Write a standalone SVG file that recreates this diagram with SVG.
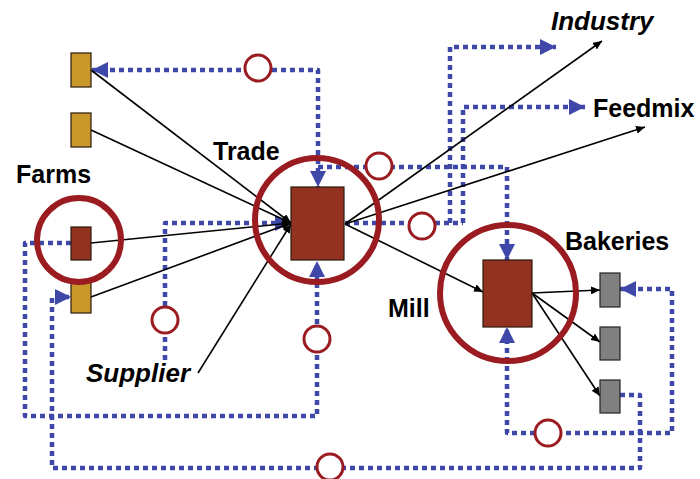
<svg xmlns="http://www.w3.org/2000/svg" width="700" height="479" viewBox="0 0 700 479">
  <style>
    .flow { fill: none; stroke: #3f48a8; stroke-width: 4.5; stroke-dasharray: 5 4; stroke-linejoin: round; }
    .link { fill: none; stroke: #000; stroke-width: 1.6; }
    .big { fill: none; stroke: #9b1c20; stroke-width: 6; }
    .chk { fill: #fff; stroke: #9b1c20; stroke-width: 3; }
    .hub { fill: #933220; stroke: #2a1a10; stroke-width: 1.2; }
    .farm { fill: #c8982a; stroke: #2a1a10; stroke-width: 1.2; }
    .bak { fill: #808080; stroke: #222; stroke-width: 1.2; }
    .lbl { font-family: "Liberation Sans", Arial, sans-serif; font-weight: bold; font-size: 25px; fill: #000; }
    .it { font-style: italic; font-size: 26px; }
  </style>
  <defs>
    <marker id="blueHead" markerUnits="userSpaceOnUse" markerWidth="17" markerHeight="16" refX="16" refY="8" orient="auto-start-reverse">
      <path d="M0,0 L16,8 L0,16 z" fill="#3f48a8"/>
    </marker>
    <marker id="blackHead" markerUnits="userSpaceOnUse" markerWidth="10" markerHeight="8" refX="9" refY="4" orient="auto">
      <path d="M0,0 L9,4 L0,8 z" fill="#000"/>
    </marker>
  </defs>

  <!-- information / money flows (dotted) -->
  <g id="flows">
    <path class="flow" d="M92,70 L318,70 L318,187" marker-start="url(#blueHead)" marker-end="url(#blueHead)"/>
    <path class="flow" d="M318,167 L507,167 L507,260" marker-end="url(#blueHead)"/>
    <path class="flow" d="M345,223 L463,223"/>
    <path class="flow" d="M450,223 L450,47 L556,47" marker-end="url(#blueHead)"/>
    <path class="flow" d="M463,223 L463,107 L585,107" marker-end="url(#blueHead)"/>
    <path class="flow" d="M71,243 L25,243 L25,416 L317,416 L317,261" marker-end="url(#blueHead)"/>
    <path class="flow" d="M165,360 L165,223 L291,223" marker-end="url(#blueHead)"/>
    <path class="flow" d="M620,395 L640,395 L640,468 L52,468 L52,297 L71,297" marker-end="url(#blueHead)"/>
    <path class="flow" d="M620,289 L672,289 L672,433 L507,433 L507,327" marker-start="url(#blueHead)" marker-end="url(#blueHead)"/>
  </g>

  <!-- control points on the flows -->
  <g id="cp1"><circle class="chk" cx="258" cy="68" r="13"/></g>
  <g id="cp2"><circle class="chk" cx="379" cy="166" r="13"/></g>
  <g id="cp3"><circle class="chk" cx="422" cy="226" r="13"/></g>
  <g id="cp4"><circle class="chk" cx="165" cy="320" r="13"/></g>
  <g id="cp5"><circle class="chk" cx="317" cy="339" r="13"/></g>
  <g id="cp6"><circle class="chk" cx="330" cy="467" r="13"/></g>
  <g id="cp7"><circle class="chk" cx="548" cy="433" r="13"/></g>

  <!-- goods flows (solid arrows) -->
  <g id="links">
    <line class="link" x1="91" y1="70" x2="291" y2="223" marker-end="url(#blackHead)"/>
    <line class="link" x1="91" y1="130" x2="291" y2="223" marker-end="url(#blackHead)"/>
    <line class="link" x1="91" y1="243" x2="291" y2="223" marker-end="url(#blackHead)"/>
    <line class="link" x1="91" y1="297" x2="291" y2="223" marker-end="url(#blackHead)"/>
    <line class="link" x1="198" y1="373" x2="291" y2="224" marker-end="url(#blackHead)"/>
    <line class="link" x1="345" y1="224" x2="602" y2="41" marker-end="url(#blackHead)"/>
    <line class="link" x1="345" y1="224" x2="645" y2="127" marker-end="url(#blackHead)"/>
    <line class="link" x1="345" y1="224" x2="483" y2="292" marker-end="url(#blackHead)"/>
    <line class="link" x1="532" y1="293" x2="600" y2="290" marker-end="url(#blackHead)"/>
    <line class="link" x1="532" y1="293" x2="600" y2="342" marker-end="url(#blackHead)"/>
    <line class="link" x1="532" y1="293" x2="600" y2="396" marker-end="url(#blackHead)"/>
  </g>

  <g id="farm1"><rect class="farm" x="71" y="53" width="20" height="34"/></g>
  <g id="farm2"><rect class="farm" x="71" y="113" width="20" height="34"/></g>
  <g id="farm3"><rect class="farm" x="71" y="282" width="20" height="31"/></g>
  <g id="farms">
    <rect class="hub" x="71" y="227" width="20" height="33"/>
    <circle class="big" cx="79" cy="240" r="42"/>
    <text class="lbl" x="16" y="183">Farms</text>
  </g>
  <g id="trade">
    <rect class="hub" x="291" y="187" width="53" height="73"/>
    <circle class="big" cx="317" cy="220" r="62"/>
    <text class="lbl" x="213" y="160">Trade</text>
  </g>
  <g id="mill">
    <rect class="hub" x="483" y="260" width="49" height="67"/>
    <circle class="big" cx="508" cy="293" r="68"/>
    <text class="lbl" x="388" y="317">Mill</text>
  </g>
  <g id="bakeries">
    <rect class="bak" x="600" y="273" width="20" height="34"/>
    <rect class="bak" x="600" y="327" width="20" height="33"/>
    <rect class="bak" x="600" y="380" width="20" height="33"/>
    <text class="lbl" x="565" y="250">Bakeries</text>
  </g>
  <g id="industry"><text class="lbl it" x="551" y="30">Industry</text></g>
  <g id="feedmix"><text class="lbl" x="593" y="117">Feedmix</text></g>
  <g id="supplier"><text class="lbl it" x="86" y="382">Supplier</text></g>
</svg>
